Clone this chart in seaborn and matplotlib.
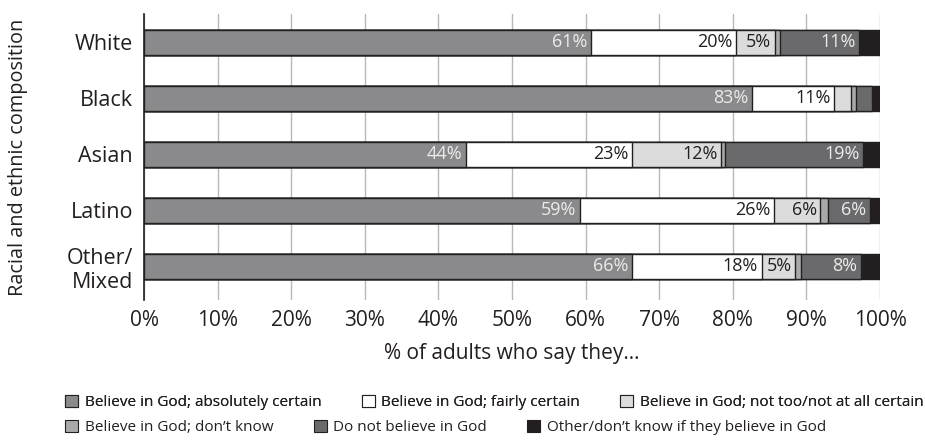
import matplotlib
matplotlib.use("Agg")
import matplotlib.pyplot as plt
import seaborn as sns
import numpy as np
import pandas as pd
from matplotlib.patches import Patch

groups = ["White", "Black", "Asian", "Latino", "Other/\nMixed"]
series = ["Believe in God; absolutely certain",
          "Believe in God; fairly certain",
          "Believe in God; not too/not at all certain",
          "Believe in God; don\u2019t know",
          "Do not believe in God",
          "Other/don\u2019t know if they believe in God"]

absolutely = [60.7, 82.6, 43.7, 59.2, 66.3]
fairly = [19.7, 11.2, 22.6, 26.4, 17.6]
not_too = [5.3, 2.3, 12.1, 6.3, 4.6]
dont_know = [0.7, 0.6, 0.6, 1.0, 0.7]
not_believe = [10.8, 2.2, 18.7, 5.7, 8.2]
other = [2.8, 1.1, 2.3, 1.3, 2.8]

colors = ["#8a8a8c", "#ffffff", "#dcdcdd", "#a9a9aa", "#6a6a6c", "#231f20"]
label_colors = ["#ececec", "#231f20", "#231f20", "#231f20", "#ececec", "#ececec"]

df = pd.DataFrame([absolutely, fairly, not_too, dont_know, not_believe, other],
                  index=series, columns=groups).T
cum = df.cumsum(axis=1)

sns.set_style("white")
plt.rcParams["font.family"] = ["Open Sans", "DejaVu Sans"]

fig = plt.figure(figsize=(9.25, 4.41), dpi=100)
ax = fig.add_axes([0.1557, 0.32, 0.7957, 0.648])

# draw cumulative bars from the right so the stack shows through
for i in range(len(series) - 1, -1, -1):
    sns.barplot(x=cum[series[i]].values, y=groups, order=groups, orient="h",
                color=colors[i], saturation=1, edgecolor="#231f20",
                linewidth=1, width=0.45, ax=ax)

for r, g in enumerate(groups):
    for i, s in enumerate(series):
        v = df.loc[g, s]
        if v >= 4:
            ax.text(cum.loc[g, s] - 0.5, r, f"{round(v):d}%", ha="right",
                    va="center", fontsize=13, color=label_colors[i])

ax.set_xlim(0, 100)
ax.set_ylim(4.6, -0.5)
ax.set_xticks(np.arange(0, 101, 10))
ax.set_xticklabels([f"{t}%" for t in range(0, 101, 10)], fontsize=15, color="#231f20")
ax.tick_params(axis="y", labelsize=15.5, colors="#231f20", length=0, pad=8)
ax.tick_params(axis="x", length=0, pad=7)
ax.xaxis.grid(True, color="#b8b8b8", linewidth=1)
ax.set_axisbelow(True)
for side in ["top", "right", "bottom"]:
    ax.spines[side].set_visible(False)
ax.spines["left"].set_color("#231f20")
ax.spines["left"].set_linewidth(1.2)

ax.set_xlabel("% of adults who say they...", fontsize=15, color="#231f20", labelpad=9)
ax.set_ylabel("Racial and ethnic composition", fontsize=14.3, color="#231f20")
ax.yaxis.set_label_coords(-0.158, 0.5)

handles = [Patch(facecolor=c, edgecolor="#231f20", linewidth=0.8) for c in colors]
common = dict(ncol=3, loc="center left", frameon=False, fontsize=11,
              handlelength=0.85, handleheight=0.85, handletextpad=0.45,
              columnspacing=2.6, labelcolor="#231f20", borderaxespad=0)
leg1 = fig.legend(handles[:3], series[:3], bbox_to_anchor=(0.064, 0.088), **common)
leg2 = fig.legend(handles[3:], series[3:], bbox_to_anchor=(0.064, 0.03), **common)
fig.add_artist(leg1)

fig.savefig("out.png", dpi=100)
